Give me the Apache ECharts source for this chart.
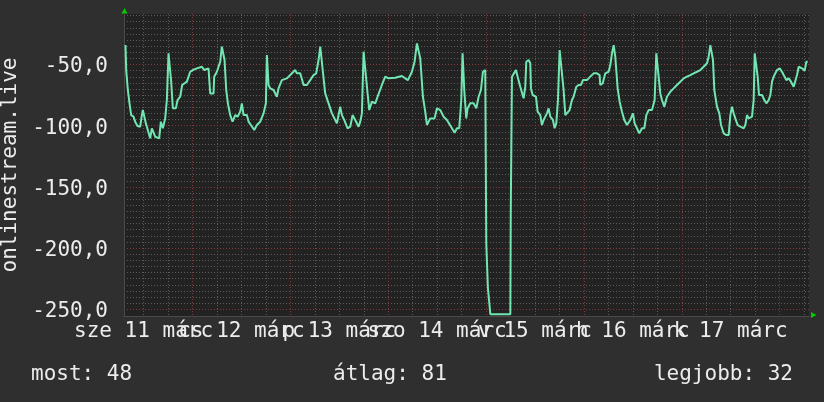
<!DOCTYPE html>
<html>
<head>
<meta charset="utf-8">
<script src="https://cdn.jsdelivr.net/npm/echarts@6/dist/echarts.min.js"></script>
<style>
html,body{margin:0;padding:0;background:#2f2f2f;}
#c{width:824px;height:402px;}
</style>
</head>
<body>
<div id="c"></div>
<script>
// Hours since 11 March 00:00
const hours = [7.57,7.74,8.14,8.55,8.96,9.53,9.94,10.51,11.17,11.58,11.82,12.23,12.56,12.80,13.21,13.62,14.03,14.44,14.85,15.26,15.83,16.24,16.73,17.30,17.71,18.12,18.53,18.77,19.18,19.92,20.33,20.98,21.47,21.96,22.62,23.03,23.44,24.09,25.07,26.30,26.87,27.93,28.34,29.16,29.32,29.98,30.39,30.80,31.20,31.61,31.86,32.27,32.68,33.25,33.82,34.48,35.05,35.70,36.11,36.52,37.34,37.75,38.32,39.14,39.79,40.61,41.43,42.00,42.24,42.65,43.06,43.88,44.70,45.10,45.92,47.15,47.97,49.19,49.60,50.42,51.24,52.06,52.87,53.69,54.34,54.92,55.33,55.73,55.98,56.55,57.37,58.19,59.01,59.41,60.23,60.64,61.21,62.03,62.69,63.26,63.91,64.73,65.14,65.55,65.96,66.37,66.94,67.35,68.00,68.82,69.39,70.45,71.27,72.09,73.72,75.36,76.18,76.83,77.81,78.47,79.04,79.45,79.86,80.51,81.08,81.49,82.31,83.37,83.95,84.76,85.58,86.40,87.63,88.28,88.85,89.42,89.92,90.24,90.65,91.14,91.47,92.12,92.94,93.60,94.17,94.74,95.23,95.80,96.05,96.45,97.05,101.95,102.05,102.35,102.76,103.33,103.74,104.39,105.21,105.62,105.86,106.43,106.84,107.01,107.42,108.23,108.64,109.30,109.70,110.11,110.93,111.34,111.75,112.40,112.81,113.22,113.63,114.04,114.45,114.69,115.02,115.43,115.84,116.49,117.06,117.47,118.13,118.70,119.27,119.76,120.17,120.74,121.15,121.56,122.38,123.20,123.85,124.01,124.59,125.24,126.06,126.47,126.88,127.29,127.69,128.27,128.76,129.33,129.90,130.56,130.96,131.37,132.03,132.44,133.01,133.58,134.24,134.81,135.30,135.87,136.69,137.34,137.75,138.16,138.41,138.73,139.14,139.71,140.37,141.19,142.00,142.82,143.64,144.46,145.28,146.09,146.91,147.73,148.55,149.36,150.18,150.59,151.00,151.41,151.65,151.98,152.63,153.21,153.62,154.27,154.92,155.50,155.91,156.31,156.72,157.13,157.70,158.36,159.18,159.59,159.99,160.40,161.22,161.63,161.88,162.29,162.61,162.94,163.67,164.25,164.74,165.31,165.72,166.13,166.54,167.35,168.01,168.58,168.99,169.64,170.22,170.79,171.44,171.85,172.26,172.67,173.49,174.14,174.55,174.88];
const values = [-34.1,-54.5,-70.8,-81.7,-91.3,-92.6,-96.7,-100.2,-100.8,-91.3,-87.2,-87.2,-98.1,-100.8,-102.1,-110.3,-102.1,-102.1,-109.0,-110.3,-110.3,-96.7,-102.1,-94.0,-79.0,-40.9,-40.9,-64.0,-85.8,-85.8,-79.0,-76.3,-66.7,-65.4,-64.0,-59.9,-55.9,-54.5,-53.1,-51.8,-54.5,-53.1,-73.6,-73.6,-60.0,-55.9,-55.9,-47.7,-35.4,-34.1,-46.3,-70.8,-81.7,-91.3,-96.7,-91.3,-92.6,-88.5,-81.7,-91.3,-91.3,-96.7,-99.4,-103.5,-99.4,-96.7,-89.9,-81.7,-42.2,-66.7,-69.5,-70.8,-76.3,-69.5,-62.7,-61.3,-58.6,-54.5,-57.2,-57.2,-66.7,-66.7,-62.7,-58.6,-57.2,-46.3,-35.4,-35.4,-55.9,-73.6,-81.7,-89.9,-95.3,-98.1,-84.4,-91.3,-95.3,-102.1,-100.8,-91.3,-95.3,-100.8,-96.7,-89.9,-39.5,-40.9,-73.6,-87.2,-80.4,-81.7,-76.3,-66.7,-59.9,-61.3,-60.8,-59.4,-61.3,-62.7,-55.9,-47.7,-32.7,-34.1,-45.0,-76.3,-88.5,-99.4,-94.0,-94.0,-85.8,-87.2,-92.6,-95.3,-102.1,-105.7,-102.1,-102.1,-79.0,-40.9,-70.8,-94.0,-85.8,-81.7,-81.7,-85.8,-76.3,-70.8,-55.9,-54.5,-196.1,-232.6,-254.0,-254.0,-173.0,-59.9,-58.6,-54.5,-59.9,-68.1,-77.6,-68.1,-47.7,-46.3,-49.0,-69.5,-74.9,-76.3,-88.5,-91.3,-99.4,-95.3,-89.9,-85.8,-92.6,-95.3,-102.1,-98.1,-79.0,-38.1,-38.1,-59.9,-70.8,-91.3,-92.6,-87.2,-79.0,-76.3,-68.1,-66.7,-66.7,-62.7,-61.3,-62.7,-64.0,-59.9,-57.2,-57.2,-58.6,-66.7,-65.4,-57.2,-55.9,-50.4,-40.9,-34.1,-43.6,-69.5,-80.4,-88.5,-95.3,-99.4,-99.4,-95.3,-89.9,-98.1,-102.1,-106.2,-102.1,-102.1,-91.3,-87.2,-87.2,-79.0,-40.9,-40.9,-62.7,-73.6,-79.0,-84.4,-76.3,-72.2,-69.5,-66.7,-64.0,-61.3,-59.9,-58.6,-57.2,-55.9,-54.5,-51.8,-49.0,-43.6,-34.1,-35.4,-46.3,-70.8,-84.4,-89.9,-99.4,-106.2,-107.6,-107.6,-91.3,-84.4,-89.9,-94.0,-99.4,-100.8,-102.1,-99.4,-91.3,-94.0,-92.6,-79.0,-40.9,-40.9,-59.9,-74.9,-74.9,-79.0,-81.7,-79.0,-74.9,-64.0,-59.9,-54.5,-53.1,-55.9,-58.6,-62.7,-61.3,-64.0,-68.1,-69.5,-58.6,-51.8,-53.1,-55.0,-47.7,-47.7];

// x tick labels (centered at noon of each day)
const labelHours = [12, 36, 60, 84, 108, 132, 156];
const labelTexts = ['sze 11 márc', 'cs 12 márc', 'p 13 márc', 'szo 14 márc', 'v 15 márc', 'h 16 márc', 'k 17 márc'];
// y tick labels
const yLabelValues = [-250, -200, -150, -100, -50];
const yAxisTitle = 'onlinestream.live';
const statTexts = ['most: 48', 'átlag: 81', 'legjobb: 32'];

const X_MIN = 7.2, X_MAX = 175.2;
const Y_MIN = -255.5, Y_MAX = -8.7;

const xGrid = [];
for (let h = 12; h <= 174; h += 6) xGrid.push(h);
const yGrid = [];
for (let v = -250; v <= -10; v += 5) yGrid.push(v);

const FONT = 'DejaVu Sans Mono';
const TXT = '#ececec';
const MINOR = '#5a5a5a';
const MAJOR = '#823838';

function labelFmt(v) { const i = labelHours.indexOf(Math.round(v)); return i >= 0 ? labelTexts[i] : ''; }
// split labels over two axes so neighbouring labels overlap freely (as in the original)
const evenLabels = labelHours.filter(function (h, i) { return i % 2 === 0; });
const oddLabels = labelHours.filter(function (h, i) { return i % 2 === 1; });

function labelAxis(vals) {
  return {
    type: 'value', min: X_MIN, max: X_MAX, position: 'bottom', gridIndex: 0,
    axisLine: {show: false}, axisTick: {show: false}, splitLine: {show: false},
    axisLabel: {
      customValues: vals, formatter: labelFmt,
      color: TXT, fontFamily: FONT, fontSize: 21, margin: 5, hideOverlap: false,
      showMinLabel: true, showMaxLabel: true
    }
  };
}

const chart = echarts.init(document.getElementById('c'), null, {renderer: 'canvas'});
chart.setOption({
  backgroundColor: '#2f2f2f',
  animation: false,
  grid: {left: 124, right: 15, top: 14, bottom: 86, show: true, backgroundColor: '#222222', borderWidth: 0,
         containLabel: false, outerBoundsMode: 'none'},
  xAxis: [
    {
      type: 'value', min: X_MIN, max: X_MAX,
      axisLine: {show: true, lineStyle: {color: '#4a4a4a', width: 1}},
      axisTick: {show: false, customValues: xGrid},
      splitLine: {show: true, lineStyle: {color: [MINOR, MINOR, MAJOR, MINOR], type: [1, 2], width: 1}},
      axisLabel: {show: false}
    },
    labelAxis(evenLabels),
    labelAxis(oddLabels)
  ],
  yAxis: {
    type: 'value', min: Y_MIN, max: Y_MAX,
    name: yAxisTitle, nameLocation: 'middle', nameRotate: 90, nameGap: 97,
    nameTextStyle: {color: TXT, fontFamily: FONT, fontSize: 21},
    axisLine: {show: true, lineStyle: {color: '#4a4a4a', width: 1}},
    axisTick: {show: false, customValues: yGrid},
    splitLine: {show: true, lineStyle: {color: [MAJOR, MINOR, MINOR, MINOR, MINOR, MINOR, MINOR, MINOR, MINOR, MINOR], type: [1, 2], width: 1}},
    axisLabel: {
      customValues: yLabelValues,
      formatter: function (v) { return '{t|' + v.toFixed(1).replace('.', ',') + '}'; },
      rich: {t: {color: TXT, fontFamily: FONT, fontSize: 21, padding: [5, 0, 0, 0]}},
      color: TXT, fontFamily: FONT, fontSize: 21, margin: 16,
      showMinLabel: true, showMaxLabel: true
    }
  },
  title: [
    {text: statTexts[0], left: 31, top: 364, padding: 0, textStyle: {color: TXT, fontFamily: FONT, fontSize: 21, fontWeight: 'normal'}},
    {text: statTexts[1], left: 333, top: 364, padding: 0, textStyle: {color: TXT, fontFamily: FONT, fontSize: 21, fontWeight: 'normal'}},
    {text: statTexts[2], right: 31, top: 364, padding: 0, textStyle: {color: TXT, fontFamily: FONT, fontSize: 21, fontWeight: 'normal'}}
  ],
  graphic: [
    {type: 'polygon', shape: {points: [[121.5, 13.5], [127.5, 13.5], [124.5, 8]]}, style: {fill: '#00cc00'}, silent: true},
    {type: 'polygon', shape: {points: [[811, 312], [811, 318], [816.5, 315]]}, style: {fill: '#00cc00'}, silent: true}
  ],
  series: [{
    type: 'line',
    xAxisIndex: 0,
    data: hours.map(function (h, i) { return [h, values[i]]; }),
    showSymbol: false,
    lineStyle: {color: '#72e6b2', width: 2},
    clip: true
  }]
});
</script>
</body>
</html>
